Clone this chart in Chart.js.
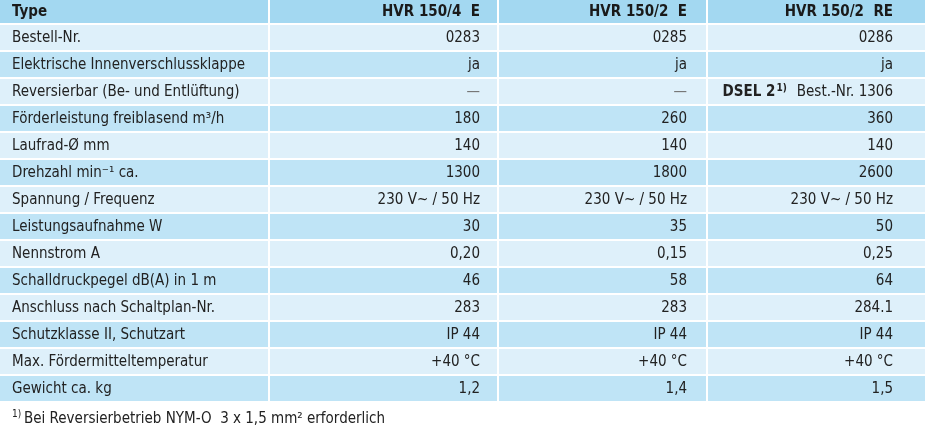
<!DOCTYPE html>
<html><head><meta charset="utf-8">
<script src="https://cdn.jsdelivr.net/npm/chart.js@4"></script>
<style>html,body{margin:0;padding:0;background:#fff}#w{width:927px;height:429px}</style>
</head><body><div id="w"><canvas id="c"></canvas></div>
<script>
const headers = ["Type","HVR 150/4  E","HVR 150/2  E","HVR 150/2  RE"];
const rowLabels = ["Bestell-Nr.","Elektrische Innenverschlussklappe","Reversierbar (Be- und Entlüftung)","Förderleistung freiblasend m³/h","Laufrad-Ø mm","Drehzahl min⁻¹ ca.","Spannung / Frequenz","Leistungsaufnahme W","Nennstrom A","Schalldruckpegel dB(A) in 1 m","Anschluss nach Schaltplan-Nr.","Schutzklasse II, Schutzart","Max. Fördermitteltemperatur","Gewicht ca. kg"];
const col1 = ["0283","ja","—","180","140","1300","230 V~ / 50 Hz","30","0,20","46","283","IP 44","+40 °C","1,2"];
const col2 = ["0285","ja","—","260","140","1800","230 V~ / 50 Hz","35","0,15","58","283","IP 44","+40 °C","1,4"];
const col3 = ["0286","ja","DSEL 2|Best.-Nr. 1306","360","140","2600","230 V~ / 50 Hz","50","0,25","64","284.1","IP 44","+40 °C","1,5"];
const footnote = "Bei Reversierbetrieb NYM-O  3 x 1,5 mm² erforderlich";

const FONT = "'Liberation Sans Narrow','DejaVu Sans Condensed',sans-serif";
const tablePlugin = {
  id: 'table',
  afterDraw(chart) {
    const ctx = chart.ctx;
    const colX = [0, 270, 499, 708, 927];
    const rightX = [0, 480, 687, 893];
    const hh = 25, rh = 27;
    ctx.save();
    ctx.fillStyle = '#a3d8f1';
    for (let c = 0; c < 4; c++) ctx.fillRect(colX[c], 0, colX[c+1]-colX[c]-2, hh-2);
    ctx.fillStyle = '#1a1a1a';
    ctx.textBaseline = 'middle';
    ctx.font = "bold 15px " + FONT;
    ctx.textAlign = 'left'; ctx.fillText(headers[0], 12, 12);
    ctx.textAlign = 'right';
    for (let c = 1; c < 4; c++) ctx.fillText(headers[c], rightX[c], 12);
    const cols = [col1, col2, col3];
    rowLabels.forEach((lab, i) => {
      const y = hh + i*rh;
      ctx.fillStyle = i % 2 === 0 ? '#def0fa' : '#bfe4f6';
      for (let c = 0; c < 4; c++) ctx.fillRect(colX[c], y, colX[c+1]-colX[c]-2, rh-2);
      const ty = y + rh/2;
      ctx.fillStyle = '#222';
      ctx.font = "15px " + FONT;
      ctx.textAlign = 'left'; ctx.fillText(lab, 12, ty);
      ctx.textAlign = 'right';
      cols.forEach((arr, c) => {
        const v = arr[i];
        if (v.includes('|')) {
          const [a, b] = v.split('|');
          ctx.fillText(b, rightX[c+1], ty);
          const bw = ctx.measureText(b).width;
          ctx.font = "bold 10px " + FONT; ctx.fillText('1)', rightX[c+1]-bw-10, ty-4);
          const sw = ctx.measureText('1)').width;
          ctx.font = "bold 15px " + FONT; ctx.fillText(a, rightX[c+1]-bw-11-sw, ty);
          ctx.font = "15px " + FONT;
        } else if (v === '—') {
          ctx.fillStyle = '#777'; ctx.fillText(v, rightX[c+1], ty); ctx.fillStyle = '#222';
        } else ctx.fillText(v, rightX[c+1], ty);
      });
    });
    ctx.textAlign = 'left';
    ctx.font = "10px " + FONT; ctx.fillText('1)', 12, 414);
    ctx.font = "15px " + FONT; ctx.fillText(footnote, 24, 419);
    ctx.restore();
  }
};
new Chart(document.getElementById('c'), {
  type: 'bar',
  data: { labels: rowLabels, datasets: [{ data: [] }] },
  options: {
    responsive: true, maintainAspectRatio: false, animation: false,
    plugins: { legend: { display: false }, tooltip: { enabled: false } },
    scales: { x: { display: false }, y: { display: false } }
  },
  plugins: [tablePlugin]
});
</script></body></html>
